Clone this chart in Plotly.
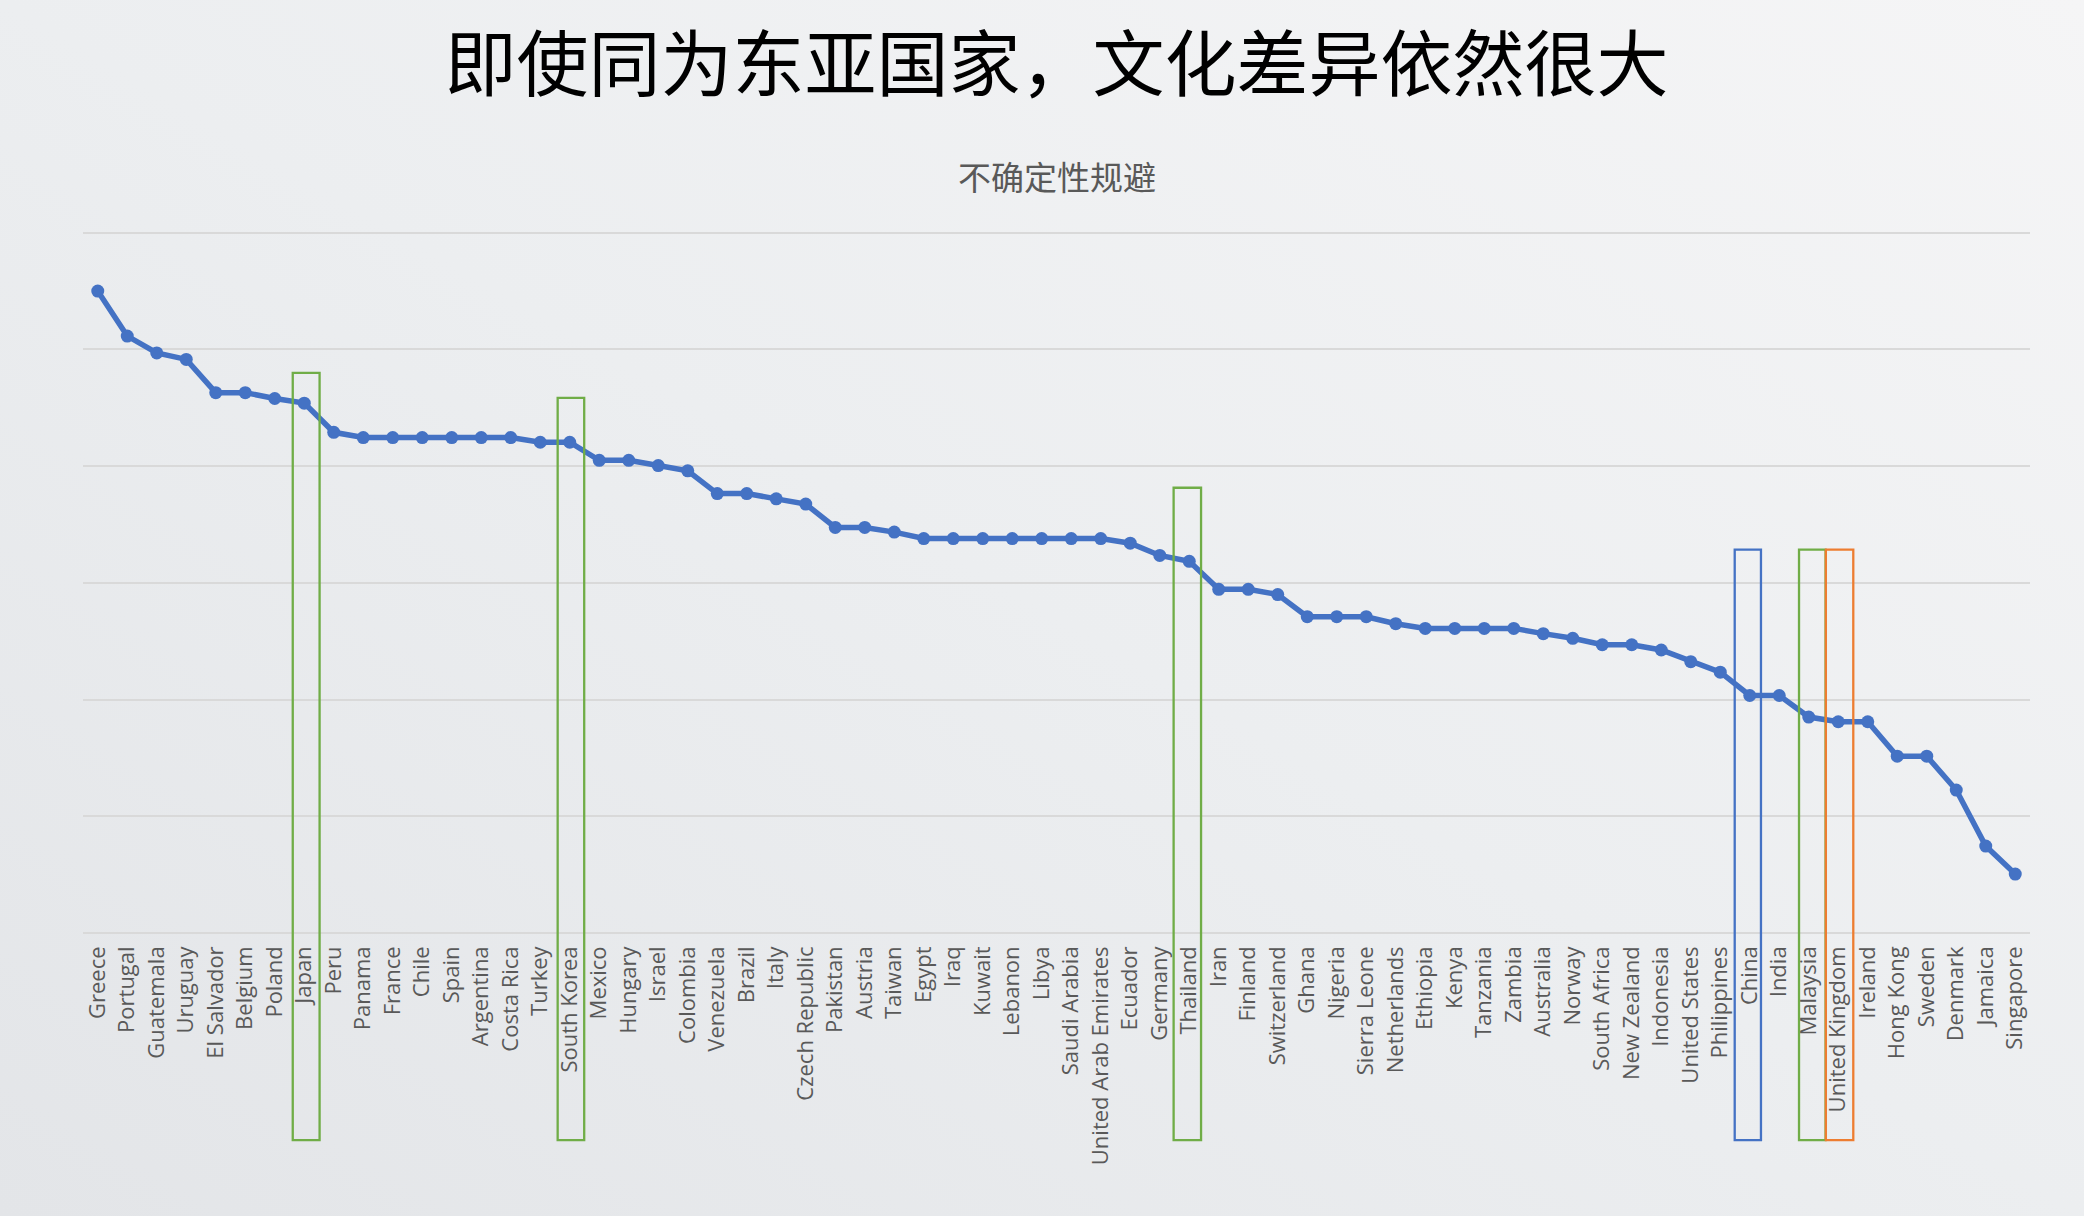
import base64
import plotly.graph_objects as go

countries = [
    "Greece", "Portugal", "Guatemala", "Uruguay", "El Salvador", "Belgium", "Poland", "Japan",
    "Peru", "Panama", "France", "Chile", "Spain", "Argentina", "Costa Rica", "Turkey",
    "South Korea", "Mexico", "Hungary", "Israel", "Colombia", "Venezuela", "Brazil", "Italy",
    "Czech Republic", "Pakistan", "Austria", "Taiwan", "Egypt", "Iraq", "Kuwait", "Lebanon",
    "Libya", "Saudi Arabia", "United Arab Emirates", "Ecuador", "Germany", "Thailand", "Iran",
    "Finland", "Switzerland", "Ghana", "Nigeria", "Sierra Leone", "Netherlands", "Ethiopia",
    "Kenya", "Tanzania", "Zambia", "Australia", "Norway", "South Africa", "New Zealand",
    "Indonesia", "United States", "Philippines", "China", "India", "Malaysia", "United Kingdom",
    "Ireland", "Hong Kong", "Sweden", "Denmark", "Jamaica", "Singapore",
]

uncertainty_avoidance = [
    110.0, 102.3, 99.4, 98.3, 92.6, 92.6, 91.6, 90.8,
    85.8, 84.9, 84.9, 84.9, 84.9, 84.9, 84.9, 84.1,
    84.1, 81.0, 81.0, 80.1, 79.2, 75.3, 75.3, 74.4,
    73.5, 69.5, 69.5, 68.7, 67.6, 67.6, 67.6, 67.6,
    67.6, 67.6, 67.6, 66.8, 64.7, 63.7, 58.9,
    58.9, 58.0, 54.2, 54.2, 54.2, 53.0, 52.2,
    52.2, 52.2, 52.2, 51.3, 50.5, 49.4, 49.4,
    48.5, 46.5, 44.7, 40.7, 40.7, 37.0, 36.2,
    36.2, 30.3, 30.3, 24.5, 14.9, 10.1,
]

title_text = "即使同为东亚国家，文化差异依然很大"
subtitle_text = "不确定性规避"

# highlighted countries: (country, colour, box top in y-axis units, left pad, right pad)
highlights = [
    ("Japan", "#70AD47", 96.0, 0.39, 0.52),
    ("South Korea", "#70AD47", 91.7, 0.41, 0.49),
    ("Thailand", "#70AD47", 76.3, 0.53, 0.40),
    ("China", "#4472C4", 65.7, 0.51, 0.38),
    ("Malaysia", "#70AD47", 65.7, 0.33, 0.57),
    ("United Kingdom", "#ED7D31", 65.7, 0.42, 0.51),
]

FIG_W, FIG_H = 2084, 1216
Y_TOP = 120.3
M_L, M_R, M_B = 83, 54, 283
PLOT_H = 700 * Y_TOP / 120
M_T = FIG_H - M_B - PLOT_H
PLOT_W = FIG_W - M_L - M_R
BOX_BOTTOM_PX = 1140  # from top of page

def paper_y(px_from_top):
    return (FIG_H - M_B - px_from_top) / PLOT_H

# subtle background gradient (texture of reference approximated)
svg = (
    '<svg xmlns="http://www.w3.org/2000/svg" width="2084" height="1216">'
    '<defs><linearGradient id="g" x1="0" y1="1" x2="1" y2="0">'
    '<stop offset="0" stop-color="#e3e5e8"/>'
    '<stop offset="0.5" stop-color="#eceef0"/>'
    '<stop offset="1" stop-color="#f5f5f6"/>'
    '</linearGradient></defs>'
    '<rect width="2084" height="1216" fill="url(#g)"/></svg>'
)
bg_src = "data:image/svg+xml;base64," + base64.b64encode(svg.encode()).decode()

fig = go.Figure()
fig.add_trace(go.Scatter(
    x=countries, y=uncertainty_avoidance, mode="lines+markers",
    line=dict(color="#4472C4", width=5.5),
    marker=dict(color="#4472C4", size=13),
    hoverinfo="x+y",
))

shapes = []
for name, color, top, lpad, rpad in highlights:
    i = countries.index(name)
    shapes.append(dict(
        type="rect", xref="x", yref="paper",
        x0=i - lpad, x1=i + rpad, y0=paper_y(BOX_BOTTOM_PX), y1=top / Y_TOP,
        line=dict(color=color, width=2.3), fillcolor="rgba(0,0,0,0)", layer="above",
    ))

fig.update_layout(
    width=FIG_W, height=FIG_H,
    margin=dict(l=M_L, r=M_R, t=M_T, b=M_B),
    paper_bgcolor="#eceef0", plot_bgcolor="rgba(0,0,0,0)",
    showlegend=False,
    images=[dict(source=bg_src, xref="paper", yref="paper",
                 x=-M_L / PLOT_W, y=1 + M_T / PLOT_H, sizex=FIG_W / PLOT_W, sizey=FIG_H / PLOT_H,
                 xanchor="left", yanchor="top", sizing="stretch", layer="below")],
    title=dict(text=title_text, x=0.5, xref="paper", y=1 - 65 / FIG_H, yref="container",
               xanchor="center", yanchor="middle",
               font=dict(family="Noto Sans CJK SC", size=72, color="#000000")),
    annotations=[dict(text=subtitle_text, xref="paper", yref="paper", x=0.5, y=paper_y(176),
                      xanchor="center", yanchor="middle", showarrow=False,
                      font=dict(family="Noto Sans CJK SC", size=33, color="#595959"))],
    shapes=shapes,
    xaxis=dict(type="category", range=[-0.5, len(countries) - 0.5], tickangle=-90,
               showgrid=False, zeroline=False, showline=False, ticks="",
               ticklabelstandoff=8,
               tickfont=dict(family="Open Sans", size=22, color="#595959")),
    yaxis=dict(range=[0, Y_TOP], dtick=20, showticklabels=False, ticks="",
               showgrid=True, gridcolor="#d9d9d9", gridwidth=1.5,
               zeroline=True, zerolinecolor="#d9d9d9", zerolinewidth=1.5, showline=False),
)

fig.write_html("out.html")
